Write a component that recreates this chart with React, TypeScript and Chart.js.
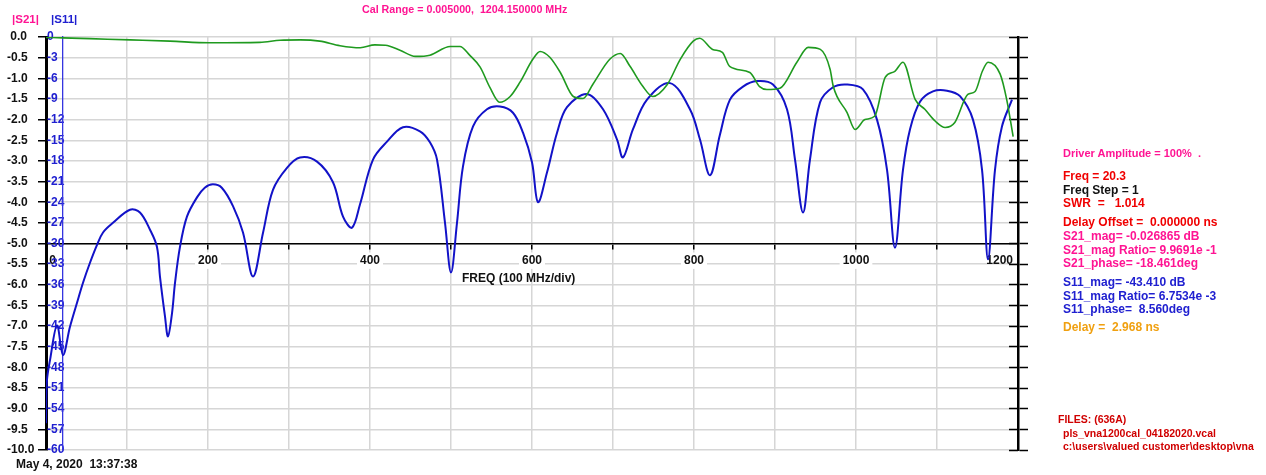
import React, { useEffect, useRef } from 'react';
import { Chart, registerables } from 'chart.js';

Chart.register(...registerables);

const FONT = '"Liberation Sans", Arial, Helvetica, sans-serif';

// |S21| trace (green, left axis, dB)
const S21_FREQ = [0, 21, 54, 104, 153, 202, 264, 289, 314, 338, 363, 388, 406, 419, 437, 456, 474, 499, 511, 523, 536, 548, 560, 573, 585, 601, 610, 622, 635, 651, 663, 675, 696, 709, 721, 737, 749, 767, 783, 799, 807, 823, 835, 844, 869, 881, 890, 906, 927, 941, 956, 968, 972, 989, 999, 1011, 1023, 1036, 1048, 1058, 1073, 1085, 1098, 1110, 1122, 1138, 1147, 1156, 1163, 1178, 1186, 1194];
const S21_DB = [-0.01, -0.02, -0.04, -0.07, -0.10, -0.14, -0.13, -0.08, -0.07, -0.10, -0.21, -0.26, -0.19, -0.20, -0.32, -0.47, -0.44, -0.23, -0.23, -0.44, -0.73, -1.22, -1.58, -1.44, -1.10, -0.54, -0.35, -0.49, -0.86, -1.44, -1.49, -1.15, -0.54, -0.40, -0.71, -1.20, -1.44, -1.15, -0.54, -0.10, -0.03, -0.30, -0.37, -0.71, -0.86, -1.20, -1.27, -1.24, -0.61, -0.25, -0.30, -0.78, -1.20, -1.83, -2.24, -2.00, -1.92, -0.98, -0.83, -0.61, -1.51, -1.75, -2.04, -2.19, -2.07, -1.39, -1.32, -0.83, -0.61, -0.90, -1.51, -2.41];

// |S11| trace (blue, inner axis, dB)
const S11_FREQ = [0, 1, 5, 13.6, 21, 29.6, 38.3, 45.7, 54.3, 63, 70.4, 82.7, 103.7, 116, 128.4, 137, 140.7, 146.9, 150.6, 155.6, 159.3, 165.4, 174, 186.4, 196, 206, 217, 231, 243.2, 255.6, 268, 280.2, 297.5, 313.6, 334.6, 354.3, 366.7, 377.8, 387.7, 403.7, 421, 440.7, 461.7, 474, 482.7, 492.6, 500, 507.4, 514.8, 527.2, 544.4, 560.5, 576.5, 588.9, 600, 607.4, 618.5, 630.9, 643.2, 667.9, 687.7, 705, 712.3, 724.7, 742, 770.4, 795, 807.4, 819.8, 832, 844.4, 860.5, 877.8, 897.5, 914.8, 924.7, 934.6, 943.2, 955.6, 971.6, 988.9, 1008.6, 1025.9, 1038.3, 1048.1, 1058, 1066.7, 1079, 1095, 1112.3, 1128.4, 1144.4, 1155.6, 1163, 1171.6, 1180.2, 1192.6];
const S11_DB = [-56.1, -50.1, -46.9, -41.9, -46.2, -42.1, -38.6, -35.7, -32.8, -30.2, -28.4, -27.0, -25.1, -25.5, -28.0, -30.5, -34.8, -40.6, -43.5, -40.1, -35.7, -30.5, -26.1, -23.3, -21.9, -21.4, -21.9, -24.6, -28.4, -34.8, -28.4, -22.2, -19.0, -17.5, -18.1, -21.1, -26.1, -27.7, -24.3, -17.8, -15.2, -13.1, -13.7, -15.3, -17.8, -27.0, -34.2, -27.0, -18.8, -13.0, -10.5, -10.1, -11.0, -13.9, -18.2, -24.0, -19.7, -13.9, -10.2, -8.3, -10.5, -14.9, -17.5, -13.4, -9.1, -6.7, -10.5, -14.9, -20.1, -14.2, -9.1, -7.2, -6.4, -6.9, -10.5, -17.8, -25.5, -17.8, -9.5, -7.3, -6.9, -7.6, -12.0, -19.3, -30.6, -19.3, -13.4, -9.4, -7.9, -7.8, -8.6, -12.0, -19.3, -32.3, -19.3, -13.0, -9.1];

// axes
const FREQ_MIN = 0;
const FREQ_MAX = 1200;
const FREQ_STEP = 100;
const FREQ_LABELLED = [0, 200, 400, 600, 800, 1000, 1200];
const S21_MIN = -10;
const S21_MAX = 0;
const S21_STEP = 0.5;
const S11_MIN = -60;
const S11_MAX = 0;
const S11_STEP = 3;
const S11_AXIS_FREQ = 21;

const PINK = '#ff1493';
const RED = '#f00000';
const BLUE_TXT = '#2020d0';
const GREEN = '#1f9a1f';
const BLUE = '#1212c8';
const GRID = '#d6d6d6';

type T = { text: string; x: number; y: number; color: string; size?: number; weight?: string };

const TEXTS: T[] = [
  { text: 'Cal Range = 0.005000,  1204.150000 MHz', x: 362, y: 8.5, color: PINK, size: 10.7 },
  { text: '|S21|', x: 12, y: 19, color: PINK, size: 11.5 },
  { text: '|S11|', x: 51, y: 19, color: BLUE_TXT, size: 11.5 },
  { text: 'FREQ (100 MHz/div)', x: 462, y: 278, color: '#111', size: 12 },
  { text: 'May 4, 2020  13:37:38', x: 16, y: 464, color: '#111', size: 12 },
  { text: 'Driver Amplitude = 100%  .', x: 1063, y: 153, color: PINK, size: 11 },
  { text: 'Freq = 20.3', x: 1063, y: 176, color: RED, size: 12 },
  { text: 'Freq Step = 1', x: 1063, y: 189.5, color: '#111', size: 12 },
  { text: 'SWR  =   1.014', x: 1063, y: 203, color: RED, size: 12 },
  { text: 'Delay Offset =  0.000000 ns', x: 1063, y: 222, color: RED, size: 12 },
  { text: 'S21_mag= -0.026865 dB', x: 1063, y: 236, color: PINK, size: 12 },
  { text: 'S21_mag Ratio= 9.9691e -1', x: 1063, y: 249.5, color: PINK, size: 12 },
  { text: 'S21_phase= -18.461deg', x: 1063, y: 263, color: PINK, size: 12 },
  { text: 'S11_mag= -43.410 dB', x: 1063, y: 282, color: BLUE_TXT, size: 12 },
  { text: 'S11_mag Ratio= 6.7534e -3', x: 1063, y: 295.5, color: BLUE_TXT, size: 12 },
  { text: 'S11_phase=  8.560deg', x: 1063, y: 309, color: BLUE_TXT, size: 12 },
  { text: 'Delay =  2.968 ns', x: 1063, y: 327, color: '#f0a010', size: 12 },
  { text: 'FILES: (636A)', x: 1058, y: 419, color: '#d00000', size: 10.5 },
  { text: 'pls_vna1200cal_04182020.vcal', x: 1063, y: 433, color: '#d00000', size: 10.5 },
  { text: 'c:\\users\\valued customer\\desktop\\vna', x: 1063, y: 446, color: '#d00000', size: 10.5 },
];

export default function App() {
  const ref = useRef<HTMLCanvasElement>(null);

  useEffect(() => {
    const canvas = ref.current;
    if (!canvas) return;
    const bold12 = { family: FONT, size: 12, weight: 'bold' as const };
    const chart = new Chart(canvas, {
      type: 'line',
      data: {
        datasets: [
          {
            label: '|S21|',
            data: S21_FREQ.map((f, i) => ({ x: f, y: S21_DB[i] })),
            yAxisID: 'y',
            borderColor: GREEN,
            borderWidth: 1.6,
            pointRadius: 0,
            cubicInterpolationMode: 'monotone',
          },
          {
            label: '|S11|',
            data: S11_FREQ.map((f, i) => ({ x: f, y: S11_DB[i] })),
            yAxisID: 'y11',
            borderColor: BLUE,
            borderWidth: 2,
            pointRadius: 0,
            tension: 0.35,
          },
        ],
      },
      options: {
        responsive: false,
        animation: false,
        devicePixelRatio: 1,
        layout: { padding: { left: 7, right: 238, top: 37, bottom: 25 } },
        plugins: { legend: { display: false }, tooltip: { enabled: false } },
        scales: {
          x: {
            type: 'linear',
            position: { y: -5 } as any,
            min: FREQ_MIN,
            max: FREQ_MAX,
            grid: { color: GRID, lineWidth: 1.5, tickColor: '#000', tickLength: 5, tickWidth: 1.5 },
            border: { color: '#000', width: 1.5 },
            ticks: {
              stepSize: FREQ_STEP,
              autoSkip: false,
              maxRotation: 0,
              padding: 5,
              font: bold12,
              color: '#111',
              showLabelBackdrop: true,
              backdropPadding: { x: 3, y: 1 },
              backdropColor: (ctx: any) => {
                const v = ctx.tick ? ctx.tick.value : null;
                if (v === 0 || v === FREQ_MAX) return 'rgba(0,0,0,0)';
                return FREQ_LABELLED.includes(v) ? '#ffffff' : 'rgba(0,0,0,0)';
              },
              callback: (v: any) => {
                const n = Number(v);
                if (!FREQ_LABELLED.includes(n)) return '';
                if (n === 0) return '    0';
                if (n === FREQ_MAX) return '1200           ';
                return String(n);
              },
            },
          },
          y: {
            type: 'linear',
            position: 'left',
            weight: 1,
            min: S21_MIN,
            max: S21_MAX,
            afterFit: (s: any) => { s.width = 39; },
            grid: { color: GRID, lineWidth: 1.5, tickColor: '#000', tickLength: 8, tickWidth: 1.5 },
            border: { color: '#000', width: 3 },
            ticks: {
              stepSize: S21_STEP,
              autoSkip: false,
              crossAlign: 'far',
              padding: 4,
              font: bold12,
              color: '#111',
              callback: (v: any) => (Number(v) === 0 ? ' 0.0' : Number(v).toFixed(1)),
            },
          },
          y11: {
            type: 'linear',
            position: 'left',
            weight: 0,
            min: S11_MIN,
            max: S11_MAX,
            afterFit: (s: any) => { s.width = 0; },
            grid: { display: false, drawTicks: false },
            border: { display: false },
            ticks: {
              stepSize: S11_STEP,
              autoSkip: false,
              mirror: true,
              padding: 1,
              font: bold12,
              color: BLUE_TXT,
            },
          },
          y11line: {
            type: 'linear',
            axis: 'y',
            position: { x: S11_AXIS_FREQ } as any,
            min: S11_MIN,
            max: S11_MAX,
            grid: { display: false, drawTicks: false },
            border: { color: '#3535e0', width: 1.3 },
            ticks: { display: false },
          },
          yr: {
            type: 'linear',
            position: 'right',
            min: S21_MIN,
            max: S21_MAX,
            afterFit: (s: any) => { s.width = 10; },
            grid: { drawOnChartArea: false, tickColor: '#000', tickLength: 10, tickWidth: 1.5 },
            border: { color: '#000', width: 2.5 },
            ticks: { stepSize: S21_STEP, display: false },
          },
          yri: {
            type: 'linear',
            axis: 'y',
            position: { x: FREQ_MAX } as any,
            min: S21_MIN,
            max: S21_MAX,
            grid: { drawOnChartArea: false, tickColor: '#000', tickLength: 9, tickWidth: 1.5 },
            border: { display: false },
            ticks: { stepSize: S21_STEP, display: false },
          },
        } as any,
      },
    });
    return () => chart.destroy();
  }, []);

  return (
    <div style={{ position: 'absolute', left: 0, top: 0, width: 1266, height: 475, background: '#fff', overflow: 'hidden' }}>
      <canvas ref={ref} width={1266} height={475} style={{ position: 'absolute', left: 0, top: 0, width: 1266, height: 475 }} />
      {TEXTS.map((t, i) => (
        <div
          key={i}
          style={{
            position: 'absolute',
            left: t.x,
            top: t.y - 7,
            height: 14,
            lineHeight: '14px',
            fontFamily: FONT,
            fontSize: t.size || 12,
            fontWeight: t.weight || 'bold',
            color: t.color,
            whiteSpace: 'pre',
          }}
        >
          {t.text}
        </div>
      ))}
    </div>
  );
}
